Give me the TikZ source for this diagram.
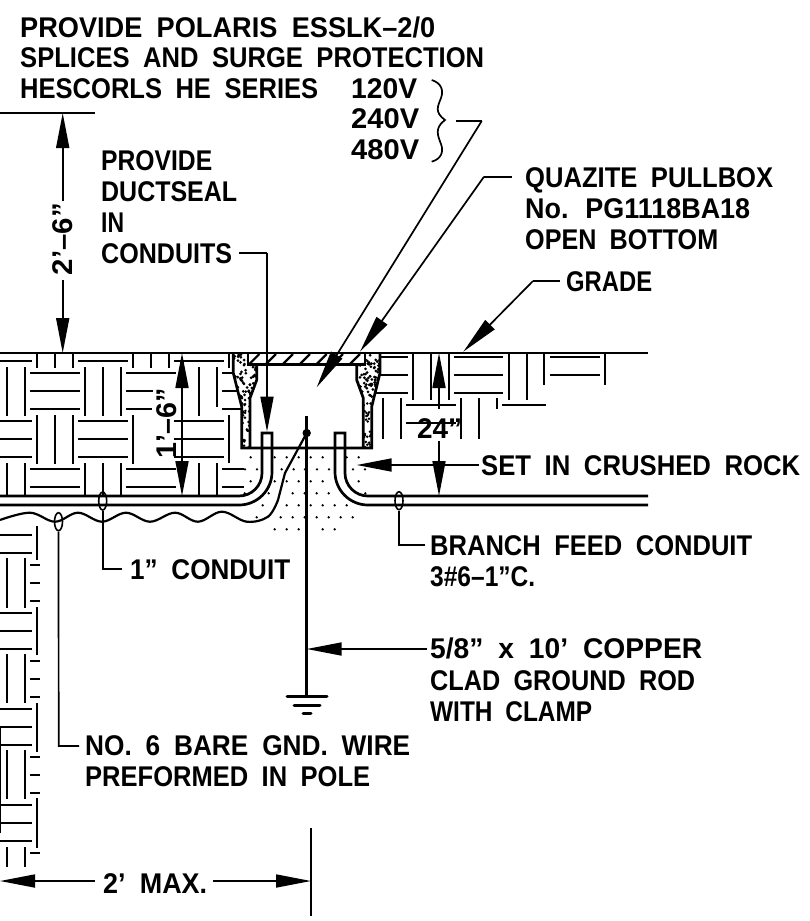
\documentclass[tikz,border=0pt]{standalone}
\usepackage{fontspec}
\usepackage{graphicx}
\setmainfont{Liberation Sans}[WordSpace=1.9,Ligatures=TeX]
\usetikzlibrary{arrows.meta,shapes.geometric}
\newcommand{\fw}[2]{\resizebox{#1pt}{\height}{#2}}
\tikzset{
  heavy/.style={line width=2.7pt,line join=miter},
  hatchline/.style={line width=1.9pt},
  leader/.style={line width=1.7pt},
  headlong/.style={-{Triangle[length=38pt,width=13pt]},line width=1.7pt},
  headmid/.style={-{Triangle[length=35pt,width=13pt]},line width=1.7pt},
  lbl/.style={anchor=base west,inner sep=0pt,font=\fontsize{28.5}{32}\selectfont\bfseries},
  dimtxt/.style={inner sep=0pt,font=\fontsize{28.5}{32}\selectfont\bfseries},
  oval/.style={ellipse,draw,line width=1.6pt,minimum width=8pt,minimum height=18pt,inner sep=0pt}
}
\begin{document}
\begin{tikzpicture}[x=1pt,y=-1pt]
\useasboundingbox (0,0) rectangle (809,921);
\fill[white] (0,0) rectangle (809,921);

% ---------- soil hatching
\foreach \a/\b/\c in {
 0/32/361,78/128/361,174/224/361,
 30/80/373,126/176/373,222/233/373,
 30/80/391,126/153/391,222/238/391,
 30/80/409,126/152/409,222/242/409,
 0/32/421,78/128/421,174/224/421,
 0/32/439,78/128/439,174/224/439,
 0/32/457,78/128/457,174/224/457,
 30/80/469,126/176/469,222/244/469,
 30/80/487,126/176/487,222/244/487,
 0/32/535,0/32/553,
 30/39.5/565,30/39.5/583,30/39.5/601,
 0/32/613,0/32/631,0/32/649,
 30/39.5/661,30/39.5/679,30/39.5/697,
 0/32/709,0/32/727,0/32/745,
 30/39.5/757,30/39.5/775,30/39.5/793,
 0/32/805,0/32/823,0/32/841,
 30/39.5/853,
 380/408/357,380/408/375,375/408/393,
 454/503/357,454/503/375,454/503/393,
 550/600/357,550/600/375,
 406/456/405,406/456/423,502/545.6/405}
 \draw[hatchline] (\a,\c) -- (\b,\c);
\foreach \x/\p/\q in {
 36.7/353/368,54.7/353/368,72.7/353/368,132.7/353/368,150.7/353/368,168.7/353/368,228.7/353/368,
 6.7/367/416,24.7/367/416,84.7/367/416,102.7/367/416,120.7/367/416,198.7/367/416,216.7/367/407,
 36.7/415/464,54.7/415/464,72.7/415/464,132.7/415/464,228.7/415/463,
 6.7/463/496,24.7/463/496,84.7/463/496,102.7/463/496,120.7/463/496,198.7/463/496,216.7/463/495,
 36.7/526/560,6.7/558/608,24.7/558/608,36.7/607/655,6.7/654/703,24.7/654/703,36.7/703/752,
 6.7/750/799,24.7/750/799,36.7/798/848,6.7/847/867,24.7/847/867,0.5/727/833,
 412.7/353/400,430.7/353/400,448.7/353/400,509/353/400,526.7/353/400,544.3/353/385,605/353/385,
 382.7/398/439,400.7/398/439,460.7/398/439,478.7/398/439,496.7/398/409}
 \draw[hatchline] (\x,\p) -- (\x,\q);

% ---------- crushed rock
\foreach \x/\y in {
 250.7/457.3,274.7/457.3,286.7/457.3,298.7/457.3,310.7/457.3,322.7/457.3,346.7/457.3,358.7/457.3,
 245/469.3,257/469.3,281.7/469.3,293.7/469.3,305/469.3,317/469.3,329/469.3,353/469.3,365/469.3,
 250.7/481.3,274.7/481.3,286.7/481.3,298.7/481.3,310.7/481.3,322.7/481.3,358.7/481.3,
 244.7/493.3,268.7/493.3,292.7/493.3,304.7/493.3,316.7/493.3,328.7/493.3,365.3/493.3,
 262.7/505.3,286.7/505.3,298.7/505.3,310.7/505.3,322.7/505.3,334.7/505.3,346.7/505.3,
 256.7/517.3,280.7/517.3,292.7/517.3,304.7/517.3,316.7/517.3,328.7/517.3,340.7/517.3,352.7/517.3,
 274.7/529.3,286.7/529.3,298.7/529.3,322.7/529.3,334.7/529.3}
 \fill (\x,\y) circle (1.3pt);

% ---------- pullbox walls with stipple
\pgfmathsetseed{4711}
\begin{scope}
 \clip (233.3,353) -- (233.3,373) -- (241.7,406.7) -- (241.7,448) -- (250,448) -- (250,398) -- (256.7,380) -- (256.7,365) -- (248,364) -- (248,353) -- cycle;
 \foreach \i in {1,...,85}{\pgfmathsetmacro\dx{233+rnd*25}\pgfmathsetmacro\dy{354+rnd*46}\fill (\dx,\dy) circle (1.5pt);}
 \foreach \i in {1,...,30}{\pgfmathsetmacro\dx{242+rnd*8}\pgfmathsetmacro\dy{400+rnd*48}\fill (\dx,\dy) circle (1.4pt);}
\end{scope}
\begin{scope}
 \clip (380,353) -- (380,373) -- (371.7,406.7) -- (371.7,448) -- (363.3,448) -- (363.3,398) -- (356.7,380) -- (356.7,365) -- (365,364) -- (365,353) -- cycle;
 \foreach \i in {1,...,85}{\pgfmathsetmacro\dx{356+rnd*25}\pgfmathsetmacro\dy{354+rnd*46}\fill (\dx,\dy) circle (1.5pt);}
 \foreach \i in {1,...,30}{\pgfmathsetmacro\dx{363+rnd*8}\pgfmathsetmacro\dy{400+rnd*48}\fill (\dx,\dy) circle (1.4pt);}
\end{scope}
\draw[heavy] (233.3,353) -- (233.3,373) -- (241.7,406.7) -- (241.7,448) -- (371.7,448) -- (371.7,406.7) -- (380,373) -- (380,353);
\draw[heavy] (250,448) -- (250,398) -- (256.7,380) -- (256.7,365) -- (248,364);
\draw[heavy] (363.3,448) -- (363.3,398) -- (356.7,380) -- (356.7,365) -- (365,364);
\draw[heavy] (248,353) -- (248,364.7) -- (365,364.7) -- (365,353);
\foreach \x in {249.3,266,283,300,316.7,333,350}
 \draw[line width=2.2pt] (\x,364) -- (\x+10,354);

% ---------- grade, conduits
\draw[heavy] (0,353) -- (648,353);
\draw[heavy] (0,496) -- (239,496) arc[start angle=90,end angle=0,radius=23] -- (262,433) -- (272,433) -- (272,472) arc[start angle=0,end angle=90,radius=33] -- (0,505);
\draw[heavy] (648,496) -- (368,496) arc[start angle=90,end angle=180,radius=23] -- (345,433) -- (335,433) -- (335,472) arc[start angle=180,end angle=90,radius=33] -- (648,505);

% ---------- bare wire and rod
\coordinate (clamp) at (306.7,433);
\draw[line width=2.2pt] plot[smooth,tension=0.6] coordinates {(0,520) (30,512.7) (55,521.7) (78,512.7) (102,521.7) (126,512.7) (150,521.7) (175,512.7) (198,521.7) (222,511.7) (246.7,521.7) (268,516.7) (278,500)} -- (285,473) -- (clamp);
\fill (clamp) circle (4.2pt);
\coordinate (rodtop) at (306.7,416);
\coordinate (rodfoot) at (306.7,696.7);
\draw[line width=2.9pt] (rodtop) -- (rodfoot);
\draw[line width=3pt,line cap=round] (287,696.7) -- (327,696.7);
\draw[line width=3pt,line cap=round] (294,705) -- (320,705);
\draw[line width=3pt,line cap=round] (303,713.3) -- (311,713.3);

% ---------- texts
\node[lbl] (t1) at (20,37) {\fw{415}{PROVIDE POLARIS ESSLK–2/0}};
\node[lbl] (t2) at (20,67) {\fw{464}{SPLICES AND SURGE PROTECTION}};
\node[lbl] (t3) at (20,98) {\fw{298}{HESCORLS HE SERIES}};
\node[lbl] (v1) at (351,98) {\fw{66}{120V}};
\node[lbl] (v2) at (351,128) {\fw{68}{240V}};
\node[lbl] (v3) at (351,159) {\fw{68}{480V}};
\node[lbl] (d1) at (101,170) {\fw{111}{PROVIDE}};
\node[lbl] (d2) at (101,201) {\fw{136}{DUCTSEAL}};
\node[lbl] (d3) at (101,232) {\fw{23}{IN}};
\node[lbl] (d4) at (101,263) {\fw{131}{CONDUITS}};
\node[lbl] (q1) at (525,187) {\fw{248}{QUAZITE PULLBOX}};
\node[lbl] (q2) at (525,218) {\fw{225}{No. PG1118BA18}};
\node[lbl] (q3) at (525,249) {\fw{193}{OPEN BOTTOM}};
\node[lbl] (gr) at (566,291) {\fw{86}{GRADE}};
\node[lbl] (sr) at (481,475) {\fw{319}{SET IN CRUSHED ROCK}};
\node[lbl] (b1) at (430,555) {\fw{322}{BRANCH FEED CONDUIT}};
\node[lbl] (b2) at (430,586) {\fw{105}{3\#6–1"C.}};
\node[lbl] (c1) at (130,579) {\fw{160}{1" CONDUIT}};
\node[lbl] (r1) at (430,658) {\fw{272}{5/8" x 10' COPPER}};
\node[lbl] (r2) at (430,690) {\fw{265}{CLAD GROUND ROD}};
\node[lbl] (r3) at (430,721) {\fw{162}{WITH CLAMP}};
\node[lbl] (n1) at (85,755) {\fw{325}{NO. 6 BARE GND. WIRE}};
\node[lbl] (n2) at (85,786) {\fw{285}{PREFORMED IN POLE}};
\node[lbl] (mx) at (103,893) {\fw{104}{2' MAX.}};
\node[dimtxt,rotate=90,anchor=base] (dA) at (72,239) {\fw{72}{2'–6"}};
\node[dimtxt,rotate=90,anchor=base] (dB) at (176,423) {\fw{70}{1'–6"}};
\node[lbl] (dC) at (417,438) {\fw{45}{24"}};

% ---------- brace
\draw[leader] (431.7,80) .. controls (441,83) and (444,90) .. (441,98) .. controls (438,106) and (434,112) .. (445,120) .. controls (434,128) and (438,136) .. (441,144) .. controls (444,152) and (441,159) .. (431.7,161.7);

% ---------- leaders
\coordinate (la) at (456,121); \coordinate (lb) at (481.7,121); \coordinate (lc) at (316.7,387.3);
\draw[leader] (la) -- (lb);
\draw[headlong] (lb) -- (lc);
\coordinate (qa) at (511.7,176.7); \coordinate (qb) at (484,176.7); \coordinate (qc) at (360,351.7);
\draw[leader] (qa) -- (qb);
\draw[headlong] (qb) -- (qc);
\coordinate (ga) at (560,281); \coordinate (gb) at (533,281); \coordinate (gc) at (463.3,351.7);
\draw[leader] (ga) -- (gb);
\draw[headlong] (gb) -- (gc);
\coordinate (ca) at (239.3,253.3); \coordinate (cb) at (267,253.3); \coordinate (cc) at (267,431.7);
\draw[leader] (ca) -- (cb);
\draw[headmid] (cb) -- (cc);
\coordinate (sa) at (479,465); \coordinate (sb) at (356.7,465);
\draw[headmid] (sa) -- (sb);
\coordinate (ra) at (426.7,649); \coordinate (rb) at (306.7,649);
\draw[headmid] (ra) -- (rb);

% ---------- ovals with leaders
\node[oval] (e1) at (58.5,521.7) {};
\node[oval] (e2) at (102.7,501) {};
\node[oval] (e3) at (399,500.7) {};
\coordinate (e1b) at (58.7,746); \coordinate (e1c) at (79,746);
\coordinate (e2b) at (102.7,569); \coordinate (e2c) at (122,569);
\coordinate (e3b) at (399,545); \coordinate (e3c) at (425,545);
\draw[leader] (e1.south) -- (e1b) -- (e1c);
\draw[leader] (e2.south) -- (e2b) -- (e2c);
\draw[leader] (e3.south) -- (e3b) -- (e3c);

% ---------- dimensions
\coordinate (hA) at (95,113); \coordinate (hB) at (0,113);
\draw[heavy] (hB) -- (hA);
\coordinate (a1) at (62.7,201); \coordinate (a2) at (62.7,113); \coordinate (a3) at (62.7,280); \coordinate (a4) at (62.7,353);
\draw[headmid] (a1) -- (a2);
\draw[headmid] (a3) -- (a4);
\coordinate (bm) at (182,425); \coordinate (b1t) at (182,353); \coordinate (b2t) at (182,496);
\draw[headmid] (bm) -- (b1t);
\draw[headmid] (bm) -- (b2t);
\coordinate (c1a) at (439,409); \coordinate (c1t) at (439,353); \coordinate (c2a) at (439,441); \coordinate (c2t) at (439,496);
\draw[headmid] (c1a) -- (c1t);
\draw[headmid] (c2a) -- (c2t);
\coordinate (m1) at (95,881); \coordinate (m1t) at (0,881); \coordinate (m2) at (213,881); \coordinate (m2t) at (311,881);
\draw[headmid] (m1) -- (m1t);
\draw[headmid] (m2) -- (m2t);
\coordinate (xa) at (311,828); \coordinate (xb) at (311,916);
\draw[leader] (xa) -- (xb);
\end{tikzpicture}
\end{document}
